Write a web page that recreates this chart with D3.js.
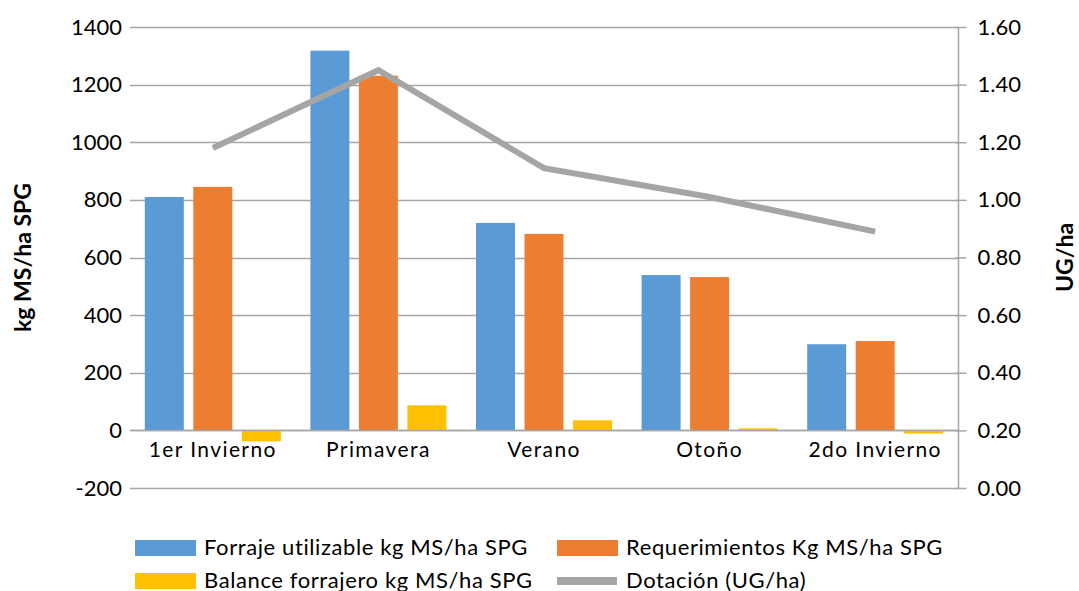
<!DOCTYPE html>
<html>
<head>
<meta charset="utf-8">
<script src="https://cdn.jsdelivr.net/npm/d3@7"></script>
<style>
  body { margin: 0; background: #fff; }
  text { font-family: Lato, "Open Sans", sans-serif; fill: #000; }
</style>
</head>
<body>
<div id="chart"></div>
<script>
var categories = ["1er Invierno", "Primavera", "Verano", "Otoño", "2do Invierno"];
var forraje = [810, 1318, 720, 539, 299];
var requerimientos = [845, 1231, 682, 532, 310];
var balance = [-38, 87, 35, 7, -11];
var dotacion = [1.18, 1.45, 1.11, 1.01, 0.89];
var leftTicks = [-200, 0, 200, 400, 600, 800, 1000, 1200, 1400];
var rightTicks = [0, 0.2, 0.4, 0.6, 0.8, 1.0, 1.2, 1.4, 1.6];

var seriesNames = ["Forraje utilizable kg MS/ha SPG", "Requerimientos Kg MS/ha SPG",
                   "Balance forrajero kg MS/ha SPG", "Dotación (UG/ha)"];
var colors = ["#5b9bd5", "#ed7d31", "#ffc000", "#a5a5a5"];

var width = 1079, height = 591;
var plotLeft = 130, plotRight = 958, plotTop = 27, plotBottom = 488;

var svg = d3.select("#chart").append("svg")
            .attr("width", width)
            .attr("height", height);

var x = d3.scaleBand().domain(categories).range([plotLeft, plotRight]);
var y = d3.scaleLinear().domain([-200, 1400]).range([plotBottom, plotTop]);
var y2 = d3.scaleLinear().domain([0, 1.6]).range([plotBottom, plotTop]);

// gridlines
svg.append("g")
   .selectAll("line")
   .data(leftTicks)
   .enter().append("line")
   .attr("x1", plotLeft).attr("x2", plotRight)
   .attr("y1", function(d) { return Math.round(y(d)) + 0.5; })
   .attr("y2", function(d) { return Math.round(y(d)) + 0.5; })
   .attr("stroke", "#a6a6a6")
   .attr("stroke-width", 1.5);

// bars
var groups = [forraje, requerimientos, balance];
var barW = 39, step = 48.5;
groups.forEach(function(vals, gi) {
  svg.append("g")
     .selectAll("rect")
     .data(vals)
     .enter().append("rect")
     .attr("x", function(d, i) { return x(categories[i]) + x.bandwidth() / 2 - barW / 2 + (gi - 1) * step; })
     .attr("width", barW)
     .attr("y", function(d) { return y(Math.max(0, d)); })
     .attr("height", function(d) { return Math.abs(y(d) - y(0)); })
     .attr("fill", colors[gi]);
});

// zero line on top of bars
svg.append("line")
   .attr("x1", plotLeft).attr("x2", plotRight)
   .attr("y1", Math.round(y(0)) + 0.5).attr("y2", Math.round(y(0)) + 0.5)
   .attr("stroke", "#a6a6a6").attr("stroke-width", 1.5);

// dotacion line
var line = d3.line()
             .x(function(d, i) { return x(categories[i]) + x.bandwidth() / 2; })
             .y(function(d) { return y2(d); });

svg.append("path")
   .datum(dotacion)
   .attr("d", line)
   .attr("fill", "none")
   .attr("stroke", colors[3])
   .attr("stroke-width", 6);

// left axis
var yAxis = d3.axisLeft(y).tickValues(leftTicks).tickSize(0).tickPadding(8)
              .tickFormat(function(d) { return String(d); });
var gy = svg.append("g").attr("transform", "translate(" + plotLeft + ",0)").call(yAxis);
gy.select(".domain").remove();
gy.selectAll("text").style("font-size", "22px").attr("font-family", null);

// right axis with tick marks
var y2Axis = d3.axisRight(y2).tickValues(rightTicks).tickSize(8).tickPadding(11)
               .tickFormat(d3.format(".2f"));
var gy2 = svg.append("g").attr("transform", "translate(" + (plotRight + 0.5) + ",0)").call(y2Axis);
gy2.select(".domain").attr("stroke", "#a6a6a6").attr("stroke-width", 1.5).attr("d", "M0," + plotTop + "V" + plotBottom);
gy2.selectAll("line").attr("stroke", "#a6a6a6").attr("stroke-width", 1.5).attr("x1", -3);
gy2.selectAll("text").style("font-size", "22px").attr("font-family", null);

// category labels
svg.append("g")
   .selectAll("text")
   .data(categories)
   .enter().append("text")
   .attr("x", function(d) { return x(d) + x.bandwidth() / 2; })
   .attr("y", y(0) + 27)
   .attr("text-anchor", "middle")
   .style("font-size", "21px")
   .style("letter-spacing", "1.4px")
   .text(function(d) { return d; });

// axis titles
svg.append("text")
   .attr("transform", "translate(31," + (plotTop + plotBottom) / 2 + ") rotate(-90)")
   .attr("text-anchor", "middle")
   .style("font-size", "23px").style("font-weight", "bold")
   .text("kg MS/ha SPG");

svg.append("text")
   .attr("transform", "translate(1073," + (plotTop + plotBottom) / 2 + ") rotate(-90)")
   .attr("text-anchor", "middle")
   .style("font-size", "23px").style("font-weight", "bold")
   .text("UG/ha");

// legend
var legendPos = [[135, 548], [557, 548], [135, 581], [557, 581]];
seriesNames.forEach(function(name, i) {
  var p = legendPos[i];
  if (i < 3) {
    svg.append("rect").attr("x", p[0]).attr("y", p[1] - 8).attr("width", 61).attr("height", 16).attr("fill", colors[i]);
  } else {
    svg.append("rect").attr("x", p[0]).attr("y", p[1] - 4).attr("width", 60).attr("height", 8).attr("fill", colors[i]);
  }
  svg.append("text")
     .attr("x", p[0] + (i % 2 === 0 ? 69 : 69))
     .attr("y", p[1])
     .attr("dy", "0.3em")
     .style("font-size", "22px")
     .style("letter-spacing", "0.6px")
     .text(name);
});
</script>
</body>
</html>
